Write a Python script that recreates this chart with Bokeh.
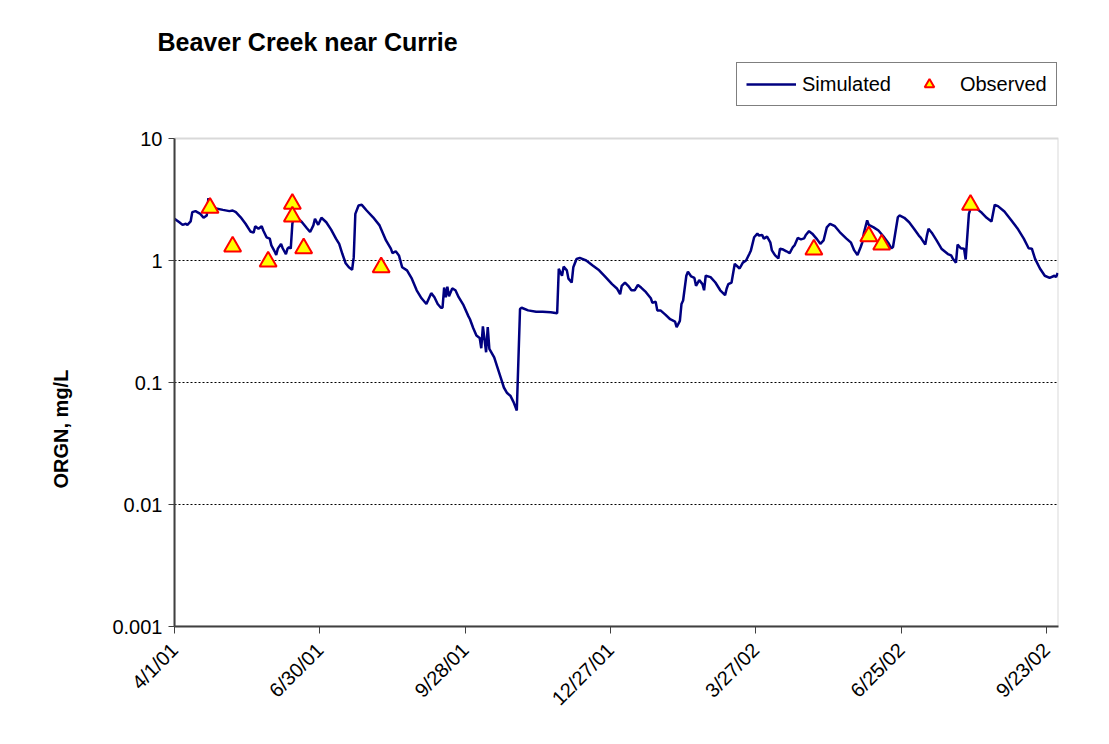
import math
from datetime import datetime, timedelta

from bokeh.plotting import figure
from bokeh.models import (Range1d, FixedTicker, CustomJSTickFormatter, Legend,
                          LegendItem, ColumnDataSource, BoxAnnotation, Title)
from bokeh.embed import file_html
from bokeh.resources import INLINE

FONT = "Liberation Sans"
START = datetime(2001, 4, 1)

# Simulated ORGN (mg/L); days since 2001-04-01
sim_day = [
    0, 3, 5, 7, 8, 10, 11, 13, 16, 18,
    20, 21, 22, 25, 30, 34, 36, 38, 41, 44,
    47, 49, 50, 52, 54, 55, 57, 59, 60, 62,
    63, 64, 66, 67, 69, 70, 71, 72, 73, 74,
    76, 79, 82, 84, 86, 87, 89, 91, 94, 97,
    100, 102, 104, 106, 108, 110, 111, 112, 114, 116,
    119, 123, 127, 131, 134, 135, 137, 139, 141, 144,
    147, 150, 153, 156, 159, 161, 163, 165, 166, 167,
    168, 169, 170, 172, 174, 176, 179, 182, 183, 185,
    187, 189, 190, 191, 193, 194, 195, 198, 200, 202,
    204, 206, 208, 210, 212, 214, 215, 219, 224, 228,
    233, 237, 238, 240, 241, 243, 244, 246, 247, 249,
    251, 255, 259, 263, 267, 271, 274, 276, 277, 279,
    281, 283, 285, 287, 289, 292, 295, 296, 298, 299,
    301, 304, 307, 310, 311, 313, 314, 315, 317, 318,
    320, 322, 323, 325, 327, 328, 329, 332, 335, 338,
    341, 342, 343, 345, 347, 348, 350, 352, 354, 356,
    357, 359, 361, 362, 364, 365, 367, 369, 370, 372,
    374, 375, 377, 379, 381, 383, 384, 386, 388, 390,
    391, 393, 395, 398, 400, 402, 404, 406, 409, 412,
    416, 419, 421, 423, 425, 426, 427, 429, 430, 433,
    436, 439, 442, 444, 445, 448, 449, 452, 455, 458,
    461, 462, 465, 466, 467, 469, 472, 475, 479, 481,
    482, 484, 485, 487, 489, 490, 492, 493, 497, 500,
    503, 506, 508, 510, 514, 518, 522, 526, 529, 531,
    533, 536, 539, 542, 545, 546, 547,
]
sim_value = [
    2.20, 2.06, 1.96, 2.00, 1.96, 2.09, 2.49, 2.54, 2.41, 2.24,
    2.34, 3.24, 2.79, 2.68, 2.60, 2.54, 2.57, 2.49, 2.26, 2.00,
    1.73, 1.69, 1.91, 1.82, 1.91, 1.76, 1.55, 1.51, 1.33, 1.19,
    1.11, 1.25, 1.37, 1.26, 1.13, 1.25, 1.29, 1.25, 2.00, 2.31,
    2.24, 2.06, 1.84, 1.71, 1.94, 2.20, 1.96, 2.24, 2.06, 1.79,
    1.51, 1.37, 1.13, 0.95, 0.88, 0.84, 1.06, 2.41, 2.82, 2.86,
    2.57, 2.26, 1.94, 1.46, 1.25, 1.15, 1.19, 1.10, 0.88, 0.83,
    0.71, 0.57, 0.49, 0.44, 0.54, 0.50, 0.44, 0.41, 0.41, 0.60,
    0.50, 0.61, 0.51, 0.59, 0.57, 0.50, 0.43, 0.35, 0.33, 0.28,
    0.243, 0.232, 0.191, 0.288, 0.177, 0.284, 0.189, 0.161, 0.133, 0.110,
    0.091, 0.082, 0.078, 0.069, 0.059, 0.40, 0.41, 0.39, 0.38, 0.38,
    0.377, 0.37, 0.855, 0.75, 0.89, 0.83, 0.71, 0.66, 0.88, 1.03,
    1.05, 1.00, 0.91, 0.83, 0.73, 0.64, 0.59, 0.53, 0.62, 0.66,
    0.62, 0.57, 0.57, 0.63, 0.60, 0.55, 0.49, 0.45, 0.46, 0.39,
    0.39, 0.36, 0.33, 0.316, 0.284, 0.32, 0.44, 0.47, 0.75, 0.81,
    0.74, 0.72, 0.62, 0.69, 0.64, 0.57, 0.75, 0.73, 0.66, 0.57,
    0.52, 0.59, 0.64, 0.66, 0.94, 0.91, 0.86, 0.96, 1.00, 1.13,
    1.21, 1.55, 1.66, 1.60, 1.62, 1.51, 1.57, 1.41, 1.21, 1.10,
    1.04, 1.25, 1.23, 1.19, 1.15, 1.29, 1.33, 1.53, 1.49, 1.52,
    1.62, 1.74, 1.66, 1.49, 1.37, 1.46, 1.87, 2.00, 1.91, 1.71,
    1.52, 1.40, 1.21, 1.11, 1.29, 1.41, 1.69, 2.13, 1.96, 1.87,
    1.76, 1.58, 1.40, 1.26, 1.29, 2.26, 2.34, 2.24, 2.06, 1.82,
    1.60, 1.55, 1.35, 1.60, 1.82, 1.69, 1.46, 1.25, 1.13, 1.10,
    1.04, 0.96, 1.35, 1.26, 1.25, 1.02, 2.41, 2.65, 2.65, 2.46,
    2.24, 2.09, 2.86, 2.79, 2.52, 2.16, 1.84, 1.51, 1.26, 1.25,
    1.03, 0.86, 0.75, 0.72, 0.75, 0.73, 0.79,
]

# Observed ORGN (mg/L); days since 2001-04-01
obs_day = [22, 36, 58, 73, 73, 80, 128, 396, 430, 438, 493]
obs_value = [2.70, 1.30, 0.98, 2.92, 2.29, 1.26, 0.88, 1.23, 1.58, 1.35, 2.86]

x_tick_dates = ["2001-04-01", "2001-06-30", "2001-09-28", "2001-12-27",
                "2002-03-27", "2002-06-25", "2002-09-23"]
x_tick_labels = ["4/1/01", "6/30/01", "9/28/01", "12/27/01",
                 "3/27/02", "6/25/02", "9/23/02"]
y_ticks = [0.001, 0.01, 0.1, 1, 10]
y_tick_labels = ["0.001", "0.01", "0.1", "1", "10"]
grid_values = [0.01, 0.1, 1]
y_min, y_max = 0.001, 10
x_end_day = 547.5

# Layout (pixels)
FRAME_W, AXIS_H = 884, 488          # plot-area size
LEGEND_ROOM = 78                    # space above the plot area kept for the legend
LEFT, TOP, RIGHT, BOTTOM = 174, 60, 42, 112
LEGEND_OFFSET = 322                 # legend's left edge, measured back from the frame's right edge

EPOCH = datetime(1970, 1, 1)


def to_ms(dt):
    return (dt - EPOCH).total_seconds() * 1000.0


sim_x = [START + timedelta(days=d) for d in sim_day]
obs_x = [START + timedelta(days=d) for d in obs_day]
x_ticks_ms = [to_ms(datetime.strptime(s, "%Y-%m-%d")) for s in x_tick_dates]

# the frame is extended upward so the legend sits inside it; the axis is bounded to 0.001..10
decades = math.log10(y_max) - math.log10(y_min)
y_top = y_max * 10 ** (decades * LEGEND_ROOM / AXIS_H)

p = figure(width=LEFT + FRAME_W + RIGHT, height=TOP + AXIS_H + LEGEND_ROOM + BOTTOM,
           x_axis_type="datetime", y_axis_type="log",
           x_range=Range1d(START, START + timedelta(days=x_end_day)),
           y_range=Range1d(y_min, y_top),
           output_backend="svg", toolbar_location=None,
           min_border_left=LEFT, min_border_right=RIGHT,
           min_border_top=TOP, min_border_bottom=BOTTOM,
           title="Beaver Creek near Currie")

p.background_fill_color = "white"
p.border_fill_color = "white"
p.outline_line_color = None

# plot-area border (grey top/right edge)
p.add_layout(BoxAnnotation(bottom=y_min, top=y_max, fill_alpha=0,
                           line_color="#808080", line_width=2, level="underlay"))

# Title
p.title.align = "left"
p.title.offset = -17
p.title.standoff = 10
p.title.text_font = FONT
p.title.text_font_size = "25px"
p.title.text_font_style = "bold"
p.title.text_color = "black"

# Glyphs
sim_src = ColumnDataSource(dict(x=sim_x, y=sim_value))
obs_src = ColumnDataSource(dict(x=obs_x, y=obs_value))
line_r = p.line(x="x", y="y", source=sim_src, line_color="#000080", line_width=2.5)
obs_r = p.scatter(x="x", y="y", source=obs_src, marker="triangle", size=17,
                  fill_color="#FFFF00", line_color="#FF0000", line_width=2)

LOOKUP = "const i = tvals.indexOf(tick); return i >= 0 ? tlabels[i] : '';"

# X axis
p.xaxis.ticker = FixedTicker(ticks=x_ticks_ms)
p.xaxis.formatter = CustomJSTickFormatter(
    args=dict(tvals=x_ticks_ms, tlabels=x_tick_labels), code=LOOKUP)
p.xaxis.major_label_orientation = math.pi / 4
p.xaxis.major_label_text_font = FONT
p.xaxis.major_label_text_font_size = "20px"
p.xaxis.major_label_text_color = "black"
p.xaxis.major_label_standoff = 13
p.xaxis.axis_line_color = "#404040"
p.xaxis.axis_line_width = 2
p.xaxis.major_tick_line_color = "#404040"
p.xaxis.major_tick_out = 7
p.xaxis.major_tick_in = 0
p.xaxis.minor_tick_line_color = None

# Y axis
p.yaxis.bounds = (y_min, y_max)
p.yaxis.ticker = FixedTicker(ticks=y_ticks)
p.yaxis.formatter = CustomJSTickFormatter(
    args=dict(tvals=y_ticks, tlabels=y_tick_labels), code=LOOKUP)
p.yaxis.major_label_text_font = FONT
p.yaxis.major_label_text_font_size = "20px"
p.yaxis.major_label_text_color = "black"
p.yaxis.major_label_standoff = 6
p.yaxis.axis_line_color = "#404040"
p.yaxis.axis_line_width = 2
p.yaxis.major_tick_line_color = "#404040"
p.yaxis.major_tick_out = 6
p.yaxis.major_tick_in = 0
p.yaxis.minor_tick_line_color = None

# Y axis title, placed along the lower part of the axis as in the original
p.add_layout(Title(text="ORGN, mg/L", align="left", offset=138, standoff=75,
                   text_font=FONT, text_font_size="20px", text_font_style="bold",
                   text_color="black"), "left")

# Grid
p.xgrid.visible = False
p.ygrid.ticker = FixedTicker(ticks=grid_values)
p.ygrid.grid_line_color = "black"
p.ygrid.grid_line_dash = "2 2"
p.ygrid.grid_line_width = 1

# Legend
legend = Legend(
    items=[LegendItem(label="Simulated", renderers=[line_r]),
           LegendItem(label="Observed", renderers=[obs_r])],
    orientation="horizontal", location=(FRAME_W - LEGEND_OFFSET, AXIS_H + 32),
    glyph_width=50, glyph_height=24, label_height=24, label_standoff=6,
    spacing=13, padding=9, margin=0,
    border_line_color="black", border_line_width=1,
    background_fill_color="white", background_fill_alpha=1,
    label_text_font=FONT, label_text_font_size="20px", label_text_color="black")
p.add_layout(legend)

open("out.html", "w").write(file_html(p, INLINE))
